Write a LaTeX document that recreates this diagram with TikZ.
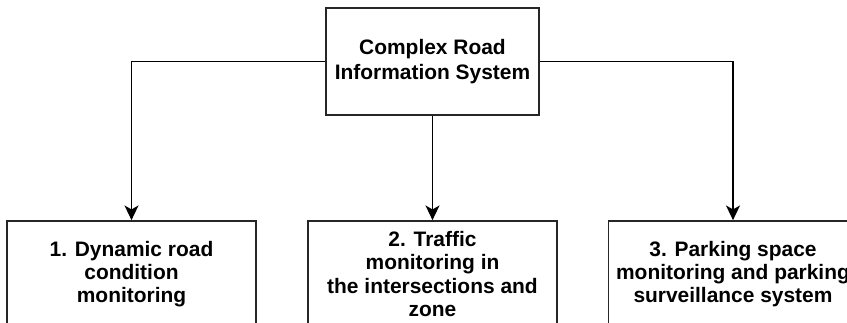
\documentclass[tikz,border=0pt]{standalone}
\usepackage{fontspec}
\setmainfont{Liberation Sans}
\usetikzlibrary{arrows.meta}
\begin{document}
\begin{tikzpicture}[x=0.75pt,y=-0.75pt,
  box/.style={draw=black!85, line width=1.3pt, fill=white, align=center, inner sep=0pt,
    font=\fontsize{15.7}{17.5}\selectfont\bfseries},
  topbox/.style={box, minimum width=159.75pt, minimum height=80.25pt,
    font=\fontsize{15.7}{19}\selectfont\bfseries},
  subbox/.style={box, minimum width=186.75pt, minimum height=79.5pt},
  arr/.style={draw=black, line width=1.1pt, -{Stealth[length=11pt, width=10.5pt, inset=3pt]}}]
\useasboundingbox (0,0) rectangle (847,323);
\clip (0,0) rectangle (847,323);
\fill[white] (0,0) rectangle (847,323);
\node[topbox] (top) at (432.5,61.5) {Complex Road\\Information System};
\node[subbox] (b1) at (131.5,274) {1. Dynamic road\\condition\\monitoring};
\node[subbox] (b2) at (432.5,274) {2. Traffic\\monitoring in\\the intersections and\\zone};
\node[subbox] (b3) at (733,274) {3. Parking space\\monitoring and parking\\surveillance system};
\draw[arr] (top.west) -| (b1.north);
\draw[arr] (top.south) -- (b2.north);
\draw[arr] (top.east) -| (b3.north);
\end{tikzpicture}
\end{document}
